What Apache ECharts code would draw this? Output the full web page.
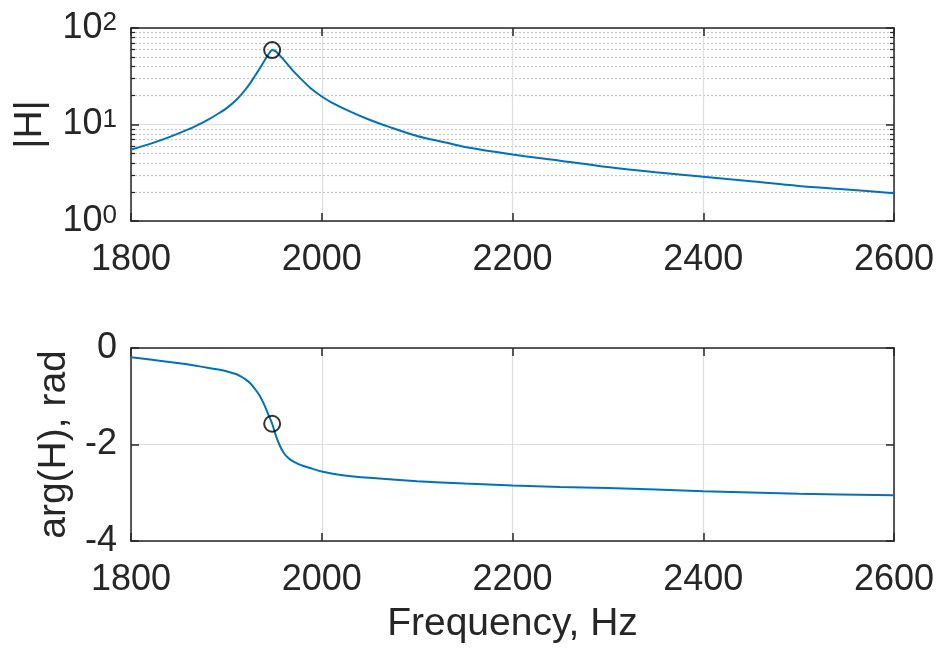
<!DOCTYPE html>
<html>
<head>
<meta charset="utf-8">
<script src="https://cdn.jsdelivr.net/npm/echarts@6/dist/echarts.min.js"></script>
<style>
html,body{margin:0;padding:0;background:#fff;}
#c{width:938px;height:654px;}
</style>
</head>
<body>
<div id="c"></div>
<script>
// Frequency (Hz) and |H|
var magFreq = [1800,1820,1840,1860,1870,1880,1890,1900,1910,1920,1925,1930,1935,1940,1944,1948,1950,1952,1956,1960,1965,1970,1980,1990,2000,2010,2030,2050,2070,2100,2130,2150,2200,2250,2300,2350,2400,2450,2500,2550,2600];
var magVals = [5.5,6.3,7.4,8.9,9.9,11.1,12.7,14.7,17.8,23.0,26.8,32.0,38.0,46.0,53.0,59.0,58.5,57.0,52.0,47.0,41.0,36.0,28.5,23.0,19.5,17.0,13.6,11.2,9.5,7.6,6.5,5.85,4.9,4.22,3.62,3.2,2.88,2.58,2.31,2.12,1.94];
// Frequency (Hz) and arg(H) (rad)
var phFreq = [1800,1820,1840,1860,1880,1890,1900,1910,1915,1920,1925,1930,1935,1940,1944,1948,1952,1956,1960,1965,1970,1975,1980,1990,2000,2020,2050,2100,2150,2200,2250,2300,2400,2500,2600];
var phVals = [-0.19,-0.24,-0.29,-0.34,-0.41,-0.44,-0.48,-0.54,-0.59,-0.65,-0.73,-0.85,-0.99,-1.19,-1.38,-1.57,-1.82,-2.02,-2.17,-2.28,-2.35,-2.40,-2.44,-2.50,-2.56,-2.63,-2.69,-2.76,-2.81,-2.85,-2.88,-2.90,-2.97,-3.02,-3.05];
// Resonance marker
var resFreq = [1948];
var resMag = [59];
var resPhase = [-1.57];
// Axes
var xTicks = [1800,2000,2200,2400,2600];
var phaseTicks = [-4,-2,0];

var FONT = 'Liberation Sans, Arial, Helvetica, sans-serif';
var AX = '#262626';
var GRID = '#dedede';

function pairs(a,b){ return a.map(function(v,i){ return [v,b[i]]; }); }

var xBase = {
  type:'value', min:xTicks[0], max:xTicks[xTicks.length-1], interval:200,
  axisLine:{show:true, onZero:false, lineStyle:{color:AX, width:1.5}},
  axisTick:{show:true, inside:true, length:8, lineStyle:{color:AX, width:1.5}},
  axisLabel:{show:true, color:AX, fontSize:36, fontFamily:FONT, margin:21, showMinLabel:true, showMaxLabel:true,
    formatter:function(v){ return String(v); }},
  splitLine:{show:true, lineStyle:{color:GRID, width:1.2}}
};
function mirrorX(grid){
  return {gridIndex:grid, type:'value', position:'top', min:xTicks[0], max:xTicks[xTicks.length-1], interval:200,
    axisLine:{show:true, onZero:false, lineStyle:{color:AX, width:1.5}},
    axisTick:{show:true, inside:true, length:8, lineStyle:{color:AX, width:1.5}},
    axisLabel:{show:false}, splitLine:{show:false}};
}
var logRich = {
  b:{fontSize:36, fontFamily:FONT, color:AX, lineHeight:36, verticalAlign:'bottom'},
  s:{fontSize:26, fontFamily:FONT, color:AX, lineHeight:26, verticalAlign:'top', padding:[0,0,24,0]}
};

var option = {
  animation:false,
  backgroundColor:'#fff',
  grid:[
    {left:131, right:44, top:28, height:193, containLabel:false},
    {left:131, right:44, top:348, height:193, containLabel:false}
  ],
  xAxis:[
    Object.assign({gridIndex:0}, xBase),
    Object.assign({gridIndex:1}, xBase, {name:'Frequency, Hz', nameLocation:'middle', nameGap:64,
      nameTextStyle:{fontSize:39, fontFamily:FONT, color:AX}}),
    mirrorX(0), mirrorX(1)
  ],
  yAxis:[
    {gridIndex:0, type:'log', logBase:10, min:1, max:100, splitNumber:2,
      name:'|H|', nameLocation:'middle', nameGap:81, nameTextStyle:{fontSize:39, fontFamily:FONT, color:AX},
      axisLine:{show:true, onZero:false, lineStyle:{color:AX, width:1.5}},
      axisTick:{show:true, inside:true, length:8, lineStyle:{color:AX, width:1.5}},
      minorTick:{show:true, splitNumber:9, length:4, lineStyle:{color:AX, width:1.2}},
      minorSplitLine:{show:true, lineStyle:{color:'#c4c4c4', width:1.2, type:[2,2]}},
      splitLine:{show:true, lineStyle:{color:GRID, width:1.2}},
      axisLabel:{margin:14, showMinLabel:true, showMaxLabel:true,
        formatter:function(v){ return '{b|10}{s|' + Math.round(Math.log10(v)) + '}'; }, rich:logRich}
    },
    {gridIndex:1, type:'value', min:phaseTicks[0], max:phaseTicks[phaseTicks.length-1], interval:2,
      name:'arg(H), rad', nameLocation:'middle', nameGap:52, nameTextStyle:{fontSize:39, fontFamily:FONT, color:AX},
      axisLine:{show:true, onZero:false, lineStyle:{color:AX, width:1.5}},
      axisTick:{show:true, inside:true, length:8, lineStyle:{color:AX, width:1.5}},
      splitLine:{show:true, lineStyle:{color:GRID, width:1.2}},
      axisLabel:{margin:14, color:AX, fontSize:36, fontFamily:FONT, showMinLabel:true, showMaxLabel:true}
    },
    {gridIndex:0, type:'log', logBase:10, min:1, max:100, splitNumber:2, position:'right',
      axisLine:{show:true, onZero:false, lineStyle:{color:AX, width:1.5}},
      axisTick:{show:true, inside:true, length:8, lineStyle:{color:AX, width:1.5}},
      minorTick:{show:true, splitNumber:9, length:4, lineStyle:{color:AX, width:1.2}},
      axisLabel:{show:false}, splitLine:{show:false}
    },
    {gridIndex:1, type:'value', min:phaseTicks[0], max:phaseTicks[phaseTicks.length-1], interval:2, position:'right',
      axisLine:{show:true, onZero:false, lineStyle:{color:AX, width:1.5}},
      axisTick:{show:true, inside:true, length:8, lineStyle:{color:AX, width:1.5}},
      axisLabel:{show:false}, splitLine:{show:false}
    }
  ],
  series:[
    {type:'line', xAxisIndex:0, yAxisIndex:0, data:pairs(magFreq,magVals), showSymbol:false, smooth:0.3,
      lineStyle:{color:'#0072BD', width:2}, z:3},
    {type:'line', xAxisIndex:1, yAxisIndex:1, data:pairs(phFreq,phVals), showSymbol:false, smooth:0.3,
      lineStyle:{color:'#0072BD', width:2}, z:3},
    {type:'scatter', xAxisIndex:0, yAxisIndex:0, data:pairs(resFreq,resMag), symbol:'circle', symbolSize:16,
      itemStyle:{color:'rgba(0,0,0,0)', borderColor:'#000', borderWidth:2}, z:4},
    {type:'scatter', xAxisIndex:1, yAxisIndex:1, data:pairs(resFreq,resPhase), symbol:'circle', symbolSize:16,
      itemStyle:{color:'rgba(0,0,0,0)', borderColor:'#000', borderWidth:2}, z:4}
  ]
};
var chart = echarts.init(document.getElementById('c'), null, {renderer:'canvas'});
chart.setOption(option);
</script>
</body>
</html>
